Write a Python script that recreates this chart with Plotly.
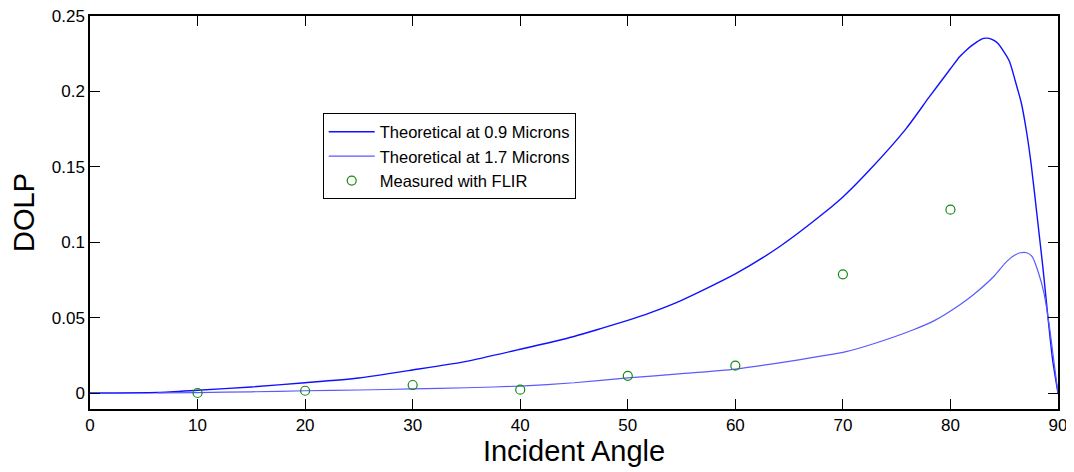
import plotly.graph_objects as go

# Theoretical DOLP at 0.9 microns
x_09 = [0, 6.3, 10, 15, 20, 25, 30, 35, 40, 45, 47.4, 50, 52, 55, 60, 64.1, 68, 70,
        72.5, 75.9, 78, 80, 80.85, 81.5, 82, 82.5, 82.9, 83.3, 83.6, 84.0, 84.4, 84.9,
        85.5, 86.0, 86.6, 87.05, 87.5, 88.1, 88.6, 89.06, 89.5, 90]
y_09 = [0, 0.0003, 0.0018, 0.0040, 0.0068, 0.0100, 0.0153, 0.021, 0.029, 0.0375, 0.0425,
        0.0482, 0.0530, 0.0615, 0.079, 0.097, 0.118, 0.130, 0.148, 0.1755, 0.196, 0.215,
        0.223, 0.2275, 0.2305, 0.2330, 0.2347, 0.2353, 0.2352, 0.2340, 0.2319, 0.2270,
        0.2197, 0.2076, 0.192, 0.1744, 0.152, 0.1147, 0.083, 0.0506, 0.022, 0]

# Theoretical DOLP at 1.7 microns
x_17 = [6.3, 10, 15, 20, 25, 30, 35, 40, 45, 50, 55, 60, 65, 70.3, 73, 76.5, 78.5, 80.85,
        82.1, 84.0, 85.0, 85.55, 86.0, 86.5, 87.1, 87.6, 88.2, 88.7, 89.2, 89.6, 90]
y_17 = [0.0001, 0.0003, 0.0008, 0.0015, 0.0020, 0.0027, 0.0035, 0.0046, 0.0068, 0.0100,
        0.0128, 0.0159, 0.021, 0.0274, 0.033, 0.0418, 0.048, 0.0584, 0.065, 0.0771,
        0.0855, 0.0893, 0.0915, 0.093, 0.093, 0.0904, 0.0794, 0.0661, 0.044, 0.022, 0]

# Measured with FLIR
x_meas = [10, 20, 30, 40, 50, 60, 70, 80]
y_meas = [0.0, 0.0015, 0.0053, 0.0022, 0.0114, 0.0181, 0.0787, 0.1216]

x_ticks = [0, 10, 20, 30, 40, 50, 60, 70, 80, 90]
y_ticks = [0, 0.05, 0.1, 0.15, 0.2, 0.25]
y_tick_labels = ["0", "0.05", "0.1", "0.15", "0.2", "0.25"]

FONT = "Liberation Sans, Arial, sans-serif"

fig = go.Figure()
fig.add_trace(go.Scatter(x=x_09, y=y_09, mode="lines", name="Theoretical at 0.9 Microns",
                         line=dict(color="#1010FF", width=1.4, shape="spline", smoothing=0.6)))
fig.add_trace(go.Scatter(x=x_17, y=y_17, mode="lines", name="Theoretical at 1.7 Microns",
                         line=dict(color="#5A5AFF", width=1.2, shape="spline", smoothing=0.6)))
fig.add_trace(go.Scatter(x=x_meas, y=y_meas, mode="markers", name="Measured with FLIR",
                         marker=dict(symbol="circle-open", size=9,
                                     color="#128A12", line=dict(width=1.2, color="#128A12"))))

axis_common = dict(showgrid=False, zeroline=False, showline=True, linecolor="black",
                   linewidth=1.5, mirror="ticks", ticks="inside", ticklen=10,
                   tickcolor="black", tickwidth=1, automargin=False,
                   ticklabeloverflow="allow",
                   tickfont=dict(family=FONT, size=17, color="black"))

fig.update_xaxes(range=[0, 90], tickvals=x_ticks, ticktext=[str(v) for v in x_ticks],
                 title=dict(text="Incident Angle", font=dict(family=FONT, size=29, color="black"),
                            standoff=0),
                 **axis_common)
fig.update_yaxes(range=[-0.0106, 0.25], tickvals=y_ticks, ticktext=y_tick_labels,
                 title=dict(text="DOLP", font=dict(family=FONT, size=29, color="black"),
                            standoff=14),
                 **axis_common)

# page body has an 8px default margin, so the figure is sized to fit the window
fig.update_layout(
    width=1066, height=464,
    margin=dict(l=82, r=16, t=8, b=63, autoexpand=False),
    paper_bgcolor="white", plot_bgcolor="white",
    font=dict(family=FONT, color="black"),
    showlegend=True,
    legend=dict(x=0.2404, y=0.752, xanchor="left", yanchor="top",
                bgcolor="white", bordercolor="black", borderwidth=1,
                font=dict(family=FONT, size=16.5, color="black"),
                itemwidth=46, tracegroupgap=0),
)

fig.write_html("out.html")
